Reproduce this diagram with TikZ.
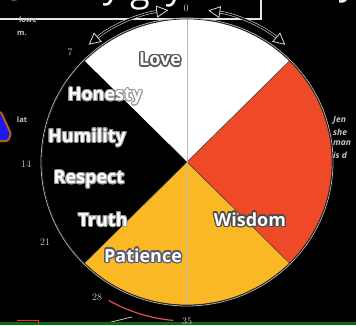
\documentclass[tikz,border=0pt]{standalone}
\usepackage{fontspec}
\newfontfamily\virtuefont{Open Sans}
\usepackage[copies]{contour}
\usetikzlibrary{arrows.meta, calc}
\definecolor{wheelred}{HTML}{EF4A27}
\definecolor{wheelyellow}{HTML}{FAB825}
\definecolor{ticklabel}{HTML}{C8C8C8}
\definecolor{bellblue}{HTML}{1A1AF0}
\definecolor{bellorng}{HTML}{B85A1E}
\definecolor{bargreen}{HTML}{0A6A0A}
\definecolor{arcred}{HTML}{E0505A}

\begin{document}
\begin{tikzpicture}[
    x=1pt, y=1pt,
    virtue/.style={font=\virtuefont\fontsize{18}{18}\selectfont\bfseries,
      text=white, inner sep=0pt},
    tick/.style={font=\fontsize{10}{10}\selectfont, text=ticklabel, inner sep=0pt},
    note/.style={font=\virtuefont\fontsize{7.5}{7.5}\selectfont\bfseries,
      text=ticklabel, inner sep=0pt},
    sidenote/.style={note, font=\virtuefont\fontsize{8.5}{8.5}\selectfont\bfseries\itshape,
      anchor=west},
    titleglyph/.style={font=\virtuefont\fontsize{36}{36}\selectfont, text=white,
      inner sep=0pt, anchor=south},
    hollow/.style={draw=white!85!black, double=black, double distance=1.4pt,
      line width=0.6pt,
      {Triangle[open, fill=black, length=12pt, width=12pt, line width=0.8pt]}-{Triangle[open, fill=black, length=12pt, width=12pt, line width=0.8pt]}},
  ]

  % ============ Background ============
  \useasboundingbox (0,0) rectangle (356,325);
  \fill[black] (0,0) rectangle (356,325);
  \clip (0,0) rectangle (356,325);

  % ============ Title (cut off) ============
  \node[titleglyph] (t1) at (15,324) {s};
  \node[titleglyph] (t2) at (112,319) {y};
  \node[titleglyph] (t3) at (140,315) {g};
  \node[titleglyph] (t4) at (175,318) {y};
  \node[titleglyph] (t5) at (348,322) {y};
  \coordinate (fl) at (0,306);
  \coordinate (fc) at (261,306);
  \coordinate (ft) at (261,326);
  \draw[white!90!black, line width=1.2pt] (fl) -- (fc) -- (ft);
  \node[note] (lowe) at (28,305) {lowe};
  \node[note] (mm)   at (22,292) {m.};

  % ============ Wheel ============
  \coordinate (wc) at (187,163);
  \foreach \col/\a in {white/45, black/135, wheelyellow/225, wheelred/315}
    \fill[\col] (wc) -- ($(wc)+(\a:145pt and 143pt)$)
      arc[start angle=\a, end angle=\a+90, x radius=145pt, y radius=143pt] -- cycle;
  \foreach \a in {45, 225, 315}
    \draw[black!75, line width=0.5pt] (wc) -- ($(wc)+(\a:145pt and 143pt)$);
  \coordinate (wt) at ($(wc)+(0,143)$);
  \coordinate (wb) at ($(wc)+(0,-143)$);
  \draw[gray!55, line width=0.9pt] (wt) -- (wb);
  \draw[gray!60, line width=0.8pt] (wc) ellipse[x radius=146pt, y radius=144pt];
  \draw[black!85, line width=0.7pt] (wc) ellipse[x radius=145pt, y radius=143pt];

  % ============ Virtues ============
  \node[virtue] (love) at (160,265)
    {\contourlength{1.5pt}\contour{black!65}{Love}};
  \contourlength{1pt}
  \node[virtue] (honesty)  at (105,228) {\contour{gray!80}{Honesty}};
  \node[virtue] (humility) at (87,187)  {\contour{gray!80}{Humility}};
  \node[virtue] (respect)  at (89,145)  {\contour{gray!80}{Respect}};
  \node[virtue] (truth)    at (103,105) {\contour{gray!80}{Truth}};
  \node[virtue] (patience) at (143,69)
    {\contourlength{1.3pt}\contour{black!70!blue!30!gray}{Patience}};
  \node[virtue] (wisdom)   at (250,105)
    {\contourlength{1.3pt}\contour{black!70}{Wisdom}};

  % ============ Day ticks ============
  \node[tick] (d0)  at (186,317) {0};
  \node[tick] (d7)  at (70,273)  {7};
  \node[tick] (d14) at (26,161)  {14};
  \node[tick] (d21) at (45,83)   {21};
  \node[tick] (d28) at (97,28)   {28};

  % ============ Arrows round the top ============
  \coordinate (la) at ($(wc)+(130:153pt)$);
  \coordinate (ra) at ($(wc)+(82:153pt)$);
  \draw[hollow] (la) arc[start angle=130, end angle=97, radius=153pt];
  \draw[hollow] (ra) arc[start angle=82, end angle=50, radius=153pt];

  % ============ Left margin ============
  \filldraw[fill=bellblue, draw=bellorng, line width=2pt, rounded corners=1.5pt]
    (-4,213) -- (1,213) -- (11,191) -- (8,184) -- (-4,184) -- cycle;
  \node[note] (lat) at (22,205) {lat};

  % ============ Right margin ============
  \node[sidenote] (r1) at (333,205) {Jen};
  \node[sidenote] (r2) at (333,193) {she};
  \node[sidenote] (r3) at (333,182) {man};
  \node[sidenote] (r4) at (333,170) {is d};

  % ============ Bottom ============
  \coordinate (ba) at ($(wc)+(240.5:159pt)$);
  \draw[arcred, line width=1.2pt] (ba) arc[start angle=240.5, end angle=265, radius=159pt];
  \coordinate (wl1) at (107,2);
  \coordinate (wl2) at (132,8);
  \draw[white!75!black, line width=0.8pt] (wl1) -- (wl2);
  \fill[bargreen] (0,0) rectangle (356,2.6);
  \coordinate (rb1) at (17,4.5);
  \coordinate (rb2) at (38,4.5);
  \coordinate (rb3) at (38,0);
  \draw[red!85!white, line width=1pt] (rb1) -- (rb2) -- (rb3);
  \node[tick] (d35) at (187,4) {35};

\end{tikzpicture}
\end{document}
